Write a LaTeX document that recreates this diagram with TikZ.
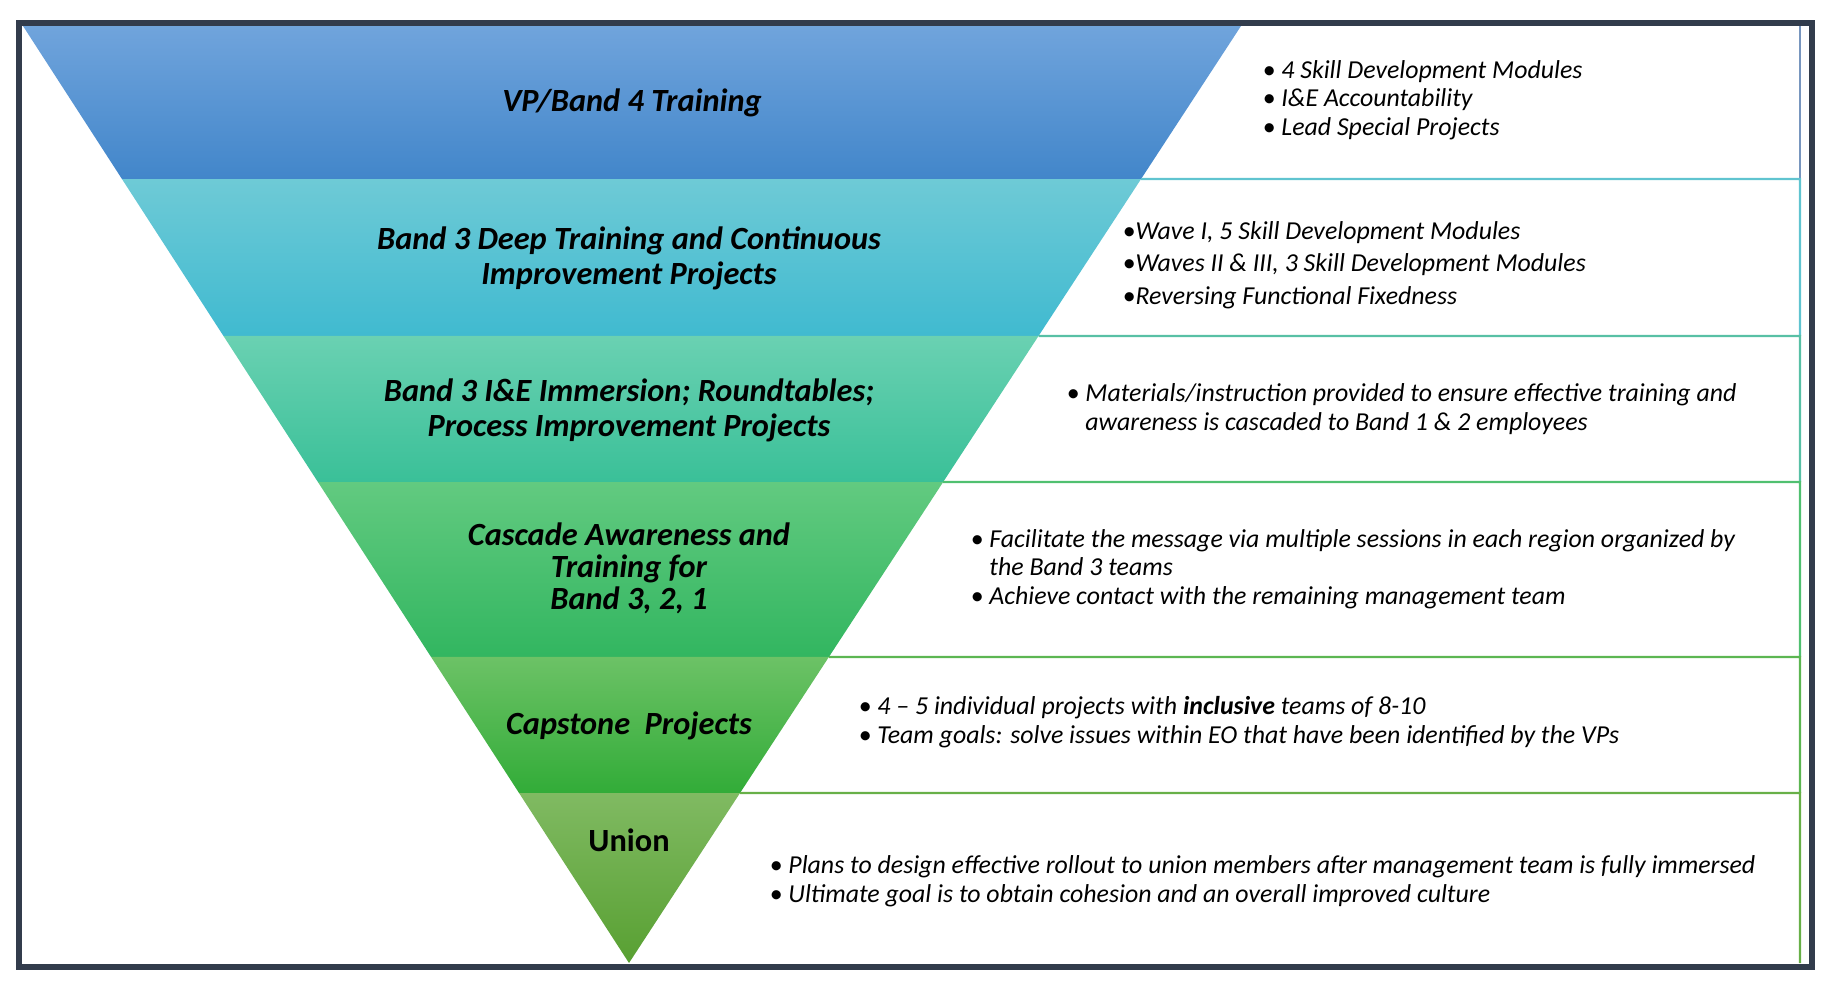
\documentclass[tikz,border=0pt]{standalone}
\usepackage{fontspec}
\setmainfont{Carlito}
\usetikzlibrary{calc}

\definecolor{framegray}{RGB}{50,60,76}
\definecolor{bandAtop}{RGB}{112,164,220}
\definecolor{bandAbot}{RGB}{66,134,202}
\definecolor{bandBtop}{RGB}{110,202,214}
\definecolor{bandBbot}{RGB}{64,186,208}
\definecolor{bandCtop}{RGB}{106,209,178}
\definecolor{bandCbot}{RGB}{58,192,152}
\definecolor{bandDtop}{RGB}{98,202,128}
\definecolor{bandDbot}{RGB}{50,182,96}
\definecolor{bandEtop}{RGB}{108,194,102}
\definecolor{bandEbot}{RGB}{50,172,56}
\definecolor{bandFtop}{RGB}{128,186,98}
\definecolor{bandFbot}{RGB}{88,160,50}
\definecolor{lineA}{RGB}{120,150,190}
\definecolor{lineB}{RGB}{96,196,208}
\definecolor{lineC}{RGB}{88,192,165}
\definecolor{lineD}{RGB}{80,192,112}
\definecolor{lineE}{RGB}{92,182,82}
\definecolor{lineF}{RGB}{104,176,72}

\tikzset{
  band label/.style={align=center, inner sep=0pt, font=\fontsize{9.2}{10}\selectfont\bfseries\itshape},
  note/.style={anchor=west, align=left, inner sep=0pt, font=\fontsize{7.35}{8.1}\selectfont\itshape},
  box line/.style={line width=0.6pt}
}

\begin{document}
\begin{tikzpicture}[x=0.01cm, y=-0.01cm]
  \useasboundingbox (0,0) rectangle (1836,982);

  % FUNNEL
  \coordinate (tl) at (23,26);   % top left
  \coordinate (tr) at (1241,26); % top right
  \coordinate (ap) at (629,963); % apex

  % LEVELS
  \coordinate (l1) at ($(tl)!0.1633!(ap)$); \coordinate (r1) at ($(tr)!0.1633!(ap)$);
  \coordinate (l2) at ($(tl)!0.3308!(ap)$); \coordinate (r2) at ($(tr)!0.3308!(ap)$);
  \coordinate (l3) at ($(tl)!0.4867!(ap)$); \coordinate (r3) at ($(tr)!0.4867!(ap)$);
  \coordinate (l4) at ($(tl)!0.6734!(ap)$); \coordinate (r4) at ($(tr)!0.6734!(ap)$);
  \coordinate (l5) at ($(tl)!0.8186!(ap)$); \coordinate (r5) at ($(tr)!0.8186!(ap)$);

  % RIGHT EDGE OF THE NOTES
  \coordinate (e0) at (1800,26);
  \coordinate (e1) at (1800,179);
  \coordinate (e2) at (1800,336);
  \coordinate (e3) at (1800,482);
  \coordinate (e4) at (1800,657);
  \coordinate (e5) at (1800,793);
  \coordinate (e6) at (1800,963);

  % DRAW BANDS
  \shade[top color=bandAtop, bottom color=bandAbot] (tl)--(tr)--(r1)--(l1)--cycle;
  \shade[top color=bandBtop, bottom color=bandBbot] (l1)--(r1)--(r2)--(l2)--cycle;
  \shade[top color=bandCtop, bottom color=bandCbot] (l2)--(r2)--(r3)--(l3)--cycle;
  \shade[top color=bandDtop, bottom color=bandDbot] (l3)--(r3)--(r4)--(l4)--cycle;
  \shade[top color=bandEtop, bottom color=bandEbot] (l4)--(r4)--(r5)--(l5)--cycle;
  \shade[top color=bandFtop, bottom color=bandFbot] (l5)--(r5)--(ap)--cycle;

  % DRAW NOTE BOXES
  \draw[box line, lineA] (e0)--(e1);
  \draw[box line, lineB] (r1)--(e1)--(e2);
  \draw[box line, lineC] (r2)--(e2)--(e3);
  \draw[box line, lineD] (r3)--(e3)--(e4);
  \draw[box line, lineE] (r4)--(e4)--(e5);
  \draw[box line, lineF] (r5)--(e5)--(e6);

  % BAND LABELS
  \node[band label] (vp) at (632,103) {VP/Band 4 Training};
  \node[band label] (deep) at (629,258) {Band 3 Deep Training and Continuous\\Improvement Projects};
  \node[band label] (immersion) at (629,410) {Band 3 I\&E Immersion; Roundtables;\\Process Improvement Projects};
  \node[band label, font=\fontsize{9.2}{9.1}\selectfont\bfseries\itshape] (cascade) at (629,568) {Cascade Awareness and\\Training for\\Band 3, 2, 1};
  \node[band label] (capstone) at (629,726) {Capstone\ \ Projects};
  \node[band label, font=\fontsize{9.2}{10}\selectfont\bfseries] (union) at (629,840) {Union};

  % NOTES
  \node[note] (noteA) at (1262,100) {\textbullet\ 4 Skill Development Modules\\\textbullet\ I\&E Accountability\\\textbullet\ Lead Special Projects};
  \node[note, font=\fontsize{7.35}{9.3}\selectfont\itshape] (noteB) at (1122,265) {\textbullet Wave I, 5 Skill Development Modules\\\textbullet Waves II \& III, 3 Skill Development Modules\\\textbullet Reversing Functional Fixedness};
  \node[note] (noteC) at (1066,409) {\textbullet\ Materials/instruction provided to ensure effective training and\\\hphantom{\textbullet\ }awareness is cascaded to Band 1 \& 2 employees};
  \node[note] (noteD) at (970,569) {\textbullet\ Facilitate the message via multiple sessions in each region organized by\\\hphantom{\textbullet\ }the Band 3 teams\\\textbullet\ Achieve contact with the remaining management team};
  \node[note] (noteE) at (858,722) {\textbullet\ 4 -- 5 individual projects with \textbf{inclusive} teams of 8-10\\\textbullet\ Team goals: solve issues within EO that have been identified by the VPs};
  \node[note] (noteF) at (769,881) {\textbullet\ Plans to design effective rollout to union members after management team is fully immersed\\\textbullet\ Ultimate goal is to obtain cohesion and an overall improved culture};

  % FRAME
  \draw[framegray, line width=0.06cm] (19,23) rectangle (1812,967);
\end{tikzpicture}
\end{document}
